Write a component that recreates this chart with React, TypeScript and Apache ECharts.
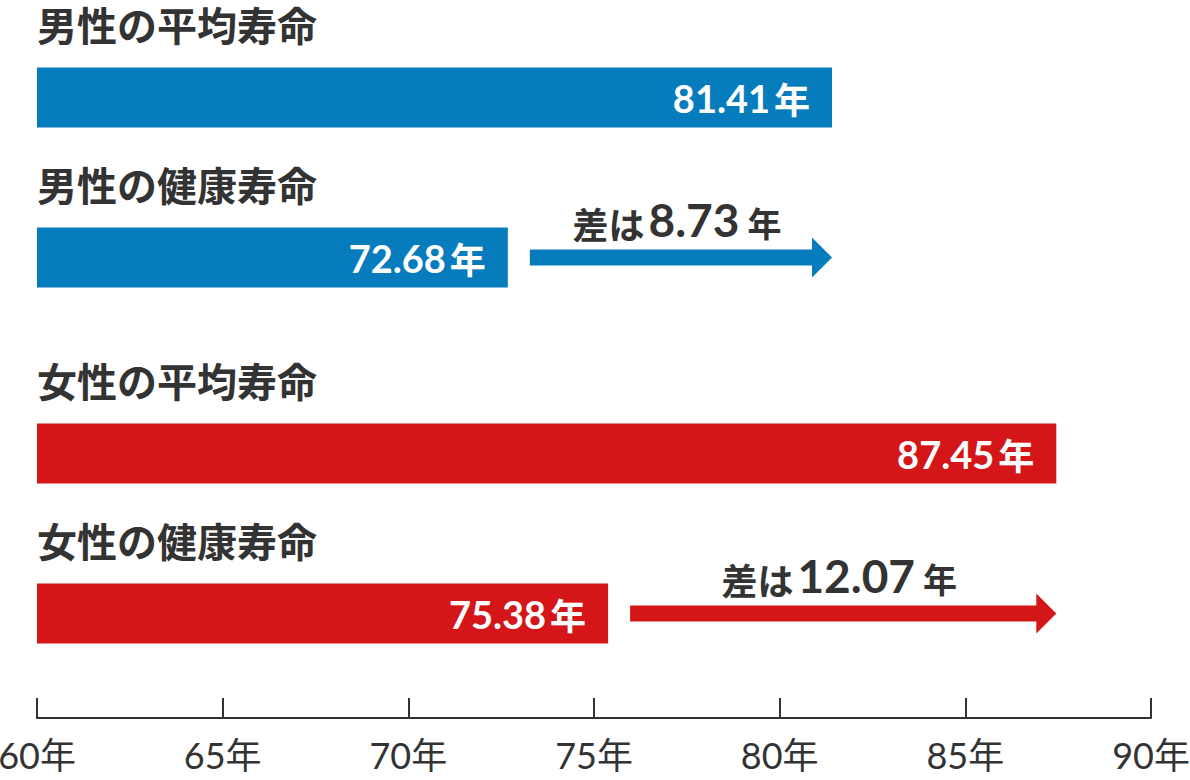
import { useEffect, useRef } from 'react';
import * as echarts from 'echarts';

// ─── Data ─────────────────────────────────────────────────────────────────────

const MALE_CATEGORIES = ['男性の平均寿命', '男性の健康寿命'];
const MALE_VALUES = [81.41, 72.68];
const FEMALE_CATEGORIES = ['女性の平均寿命', '女性の健康寿命'];
const FEMALE_VALUES = [87.45, 75.38];
const X_TICKS = [60, 65, 70, 75, 80, 85, 90];
const UNIT = '年';

// ─── Styles ───────────────────────────────────────────────────────────────────

const BLUE = '#077cbd';
const RED = '#d51618';
const INK = '#333333';
const LATIN = "Lato, 'Noto Sans CJK JP', sans-serif";
const CJK = "'Noto Sans CJK JP', sans-serif";

const AX_MIN = X_TICKS[0];
const AX_MAX = X_TICKS[X_TICKS.length - 1];
const AX_STEP = X_TICKS[1] - X_TICKS[0];

function barSeries(values: number[], color: string, gridIdx: number) {
  return {
    type: 'bar',
    xAxisIndex: gridIdx,
    yAxisIndex: gridIdx,
    data: values,
    barWidth: 60,
    itemStyle: { color },
    label: {
      show: true,
      position: 'insideRight',
      distance: 22,
      formatter: (p: any) => `{n|${p.value.toFixed(2)}}{u|${UNIT}}`,
      rich: {
        n: { fontFamily: LATIN, fontWeight: 'bold', fontSize: 38, color: '#fff' },
        u: { fontFamily: CJK, fontWeight: 'bold', fontSize: 36, color: '#fff', padding: [0, 0, 0, 4] },
      },
    },
  };
}

// arrow from the healthy bar end to the average value, with the gap written above it
function gapSeries(values: number[], color: string, gridIdx: number) {
  const avg = values[0];
  const healthy = values[1];
  const diff = (avg - healthy).toFixed(2);
  return {
    type: 'custom',
    xAxisIndex: gridIdx,
    yAxisIndex: gridIdx,
    encode: { x: [0, 1], y: 2 },
    data: [[healthy, avg, 1, diff]],
    renderItem: (params: any, api: any) => {
      const start = api.coord([api.value(0), api.value(2)]);
      const end = api.coord([api.value(1), api.value(2)]);
      const x0 = start[0] + 22;
      const tip = end[0];
      const cy = start[1];
      const headL = 20;
      const headH = 20;
      const shaft = 8;
      return {
        type: 'group',
        children: [
          {
            type: 'polygon',
            shape: {
              points: [
                [x0, cy - shaft],
                [tip - headL, cy - shaft],
                [tip - headL, cy - headH],
                [tip, cy],
                [tip - headL, cy + headH],
                [tip - headL, cy + shaft],
                [x0, cy + shaft],
              ],
            },
            style: { fill: color },
          },
          {
            type: 'text',
            x: (x0 + tip) / 2 - 4,
            y: cy - 38,
            style: {
              text: `{a|差は}{b|${diff}}{c|${UNIT}}`,
              align: 'center',
              verticalAlign: 'middle',
              rich: {
                a: { fontFamily: CJK, fontWeight: 'bold', fontSize: 36, fill: INK, padding: [6, 4, 0, 0] },
                b: { fontFamily: LATIN, fontWeight: 'bold', fontSize: 46, fill: INK },
                c: { fontFamily: CJK, fontWeight: 'bold', fontSize: 34, fill: INK, padding: [6, 0, 0, 8] },
              },
            },
          },
        ],
      };
    },
  };
}

function categoryAxis(cats: string[], gridIdx: number) {
  return {
    type: 'category',
    gridIndex: gridIdx,
    data: cats,
    inverse: true,
    axisLine: { show: false },
    axisTick: { show: false },
    axisLabel: {
      inside: true,
      margin: 0,
      align: 'left',
      verticalAlign: 'bottom',
      formatter: '{t|{value}}',
      rich: {
        t: {
          fontFamily: CJK,
          fontWeight: 'bold',
          fontSize: 40,
          color: INK,
          padding: [0, 0, 54, 0],
        },
      },
    },
  };
}

function hiddenX(gridIdx: number) {
  return { type: 'value', gridIndex: gridIdx, min: AX_MIN, max: AX_MAX, show: false };
}

function buildOption(): any {
  return {
    animation: false,
    backgroundColor: '#ffffff',
    grid: [
      { left: 37, width: 1114, top: 17.5, height: 320, outerBoundsMode: 'none' },
      { left: 37, width: 1114, top: 373.5, height: 320, outerBoundsMode: 'none' },
      { left: 37, width: 1114, top: 698, height: 20, outerBoundsMode: 'none' },
    ],
    xAxis: [
      hiddenX(0),
      hiddenX(1),
      {
        type: 'value',
        gridIndex: 2,
        min: AX_MIN,
        max: AX_MAX,
        interval: AX_STEP,
        splitLine: { show: false },
        axisLine: { show: true, lineStyle: { color: INK, width: 2 } },
        axisTick: { show: true, inside: true, length: 20, lineStyle: { color: INK, width: 2 } },
        axisLabel: {
          showMinLabel: true,
          showMaxLabel: true,
          margin: 19,
          formatter: (v: number) => `${v}${UNIT}`,
          fontFamily: LATIN,
          fontSize: 36,
          color: INK,
        },
      },
    ],
    yAxis: [
      categoryAxis(MALE_CATEGORIES, 0),
      categoryAxis(FEMALE_CATEGORIES, 1),
      { type: 'value', gridIndex: 2, show: false },
    ],
    series: [
      barSeries(MALE_VALUES, BLUE, 0),
      barSeries(FEMALE_VALUES, RED, 1),
      gapSeries(MALE_VALUES, BLUE, 0),
      gapSeries(FEMALE_VALUES, RED, 1),
    ],
  };
}

export default function App() {
  const ref = useRef<HTMLDivElement>(null);

  useEffect(() => {
    if (!ref.current) return;
    const chart = echarts.init(ref.current, null, { renderer: 'svg' });
    chart.setOption(buildOption());
    return () => chart.dispose();
  }, []);

  return (
    <div
      ref={ref}
      style={{ position: 'absolute', left: 0, top: 0, width: 1190, height: 780, background: '#fff' }}
    />
  );
}
